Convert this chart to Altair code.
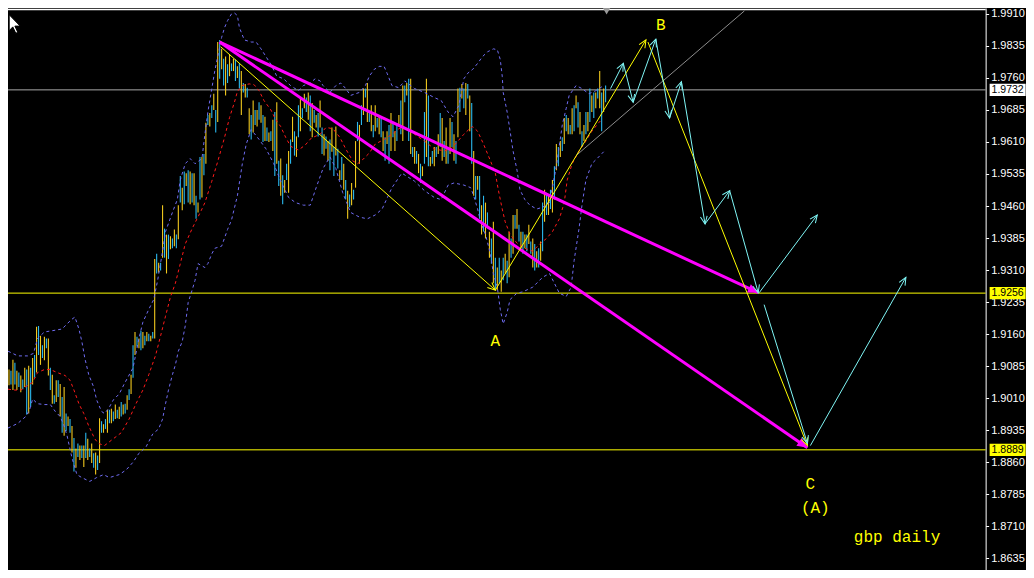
import math
import altair as alt
import pandas as pd

# ---------------- layout constants ----------------
W, H = 1018, 562
X_MIN, X_MAX = 0.0, 517.0          # day index units
Y_MIN, Y_MAX = 1.86076, 1.99237    # price units
AXIS_DAY = 496.5                   # where the price axis sits
PPD = W / (X_MAX - X_MIN)
PPP = H / (Y_MAX - Y_MIN)

# ---------------- data ----------------
tick_values = [1.9910, 1.9835, 1.9760, 1.9685, 1.9610, 1.9535, 1.9460, 1.9385, 1.9310,
               1.9235, 1.9160, 1.9085, 1.9010, 1.8935, 1.8860, 1.8785, 1.8710, 1.8635]

bar_high = [
    1.9077, 1.9074, 1.9100, 1.9093, 1.9074, 1.9070, 1.9063, 1.9054, 1.9081, 1.9077,
    1.9086, 1.9081, 1.9104, 1.9111, 1.9177, 1.9179, 1.9156, 1.9134, 1.9154, 1.9150,
    1.9150, 1.9081, 1.9065, 1.9017, 1.9052, 1.9052, 1.9043, 1.9013, 1.9036, 1.8974,
    1.8967, 1.8961, 1.8945, 1.8917, 1.8892, 1.8904, 1.8899, 1.8899, 1.8899, 1.8929,
    1.8915, 1.8892, 1.8904, 1.8881, 1.8883, 1.8876, 1.8963, 1.8956, 1.8949, 1.8961,
    1.8983, 1.8983, 1.8985, 1.8979, 1.8995, 1.8983, 1.8990, 1.9001, 1.8995, 1.8997,
    1.9017, 1.9031, 1.9065, 1.9134, 1.9165, 1.9154, 1.9150, 1.9168, 1.9165, 1.9156,
    1.9165, 1.9161, 1.9156, 1.9165, 1.9336, 1.9348, 1.9327, 1.9327, 1.9462, 1.9407,
    1.9393, 1.9393, 1.9389, 1.9384, 1.9405, 1.9393, 1.9462, 1.9530, 1.9503, 1.9541,
    1.9537, 1.9544, 1.9541, 1.9537, 1.9537, 1.9484, 1.9468, 1.9575, 1.9575, 1.9582,
    1.9655, 1.9673, 1.9678, 1.9696, 1.9723, 1.9685, 1.9844, 1.9849, 1.9828, 1.9805,
    1.9810, 1.9792, 1.9815, 1.9794, 1.9805, 1.9803, 1.9787, 1.9794, 1.9776, 1.9748,
    1.9746, 1.9737, 1.9689, 1.9673, 1.9707, 1.9685, 1.9685, 1.9703, 1.9696, 1.9673,
    1.9669, 1.9644, 1.9632, 1.9635, 1.9662, 1.9680, 1.9703, 1.9566, 1.9571, 1.9532,
    1.9521, 1.9559, 1.9589, 1.9616, 1.9669, 1.9635, 1.9623, 1.9696, 1.9714, 1.9689,
    1.9723, 1.9714, 1.9726, 1.9719, 1.9701, 1.9685, 1.9673, 1.9678, 1.9707, 1.9644,
    1.9628, 1.9623, 1.9612, 1.9616, 1.9644, 1.9598, 1.9646, 1.9594, 1.9544, 1.9575,
    1.9559, 1.9521, 1.9496, 1.9487, 1.9514, 1.9498, 1.9612, 1.9657, 1.9650, 1.9696,
    1.9735, 1.9735, 1.9748, 1.9680, 1.9696, 1.9650, 1.9696, 1.9666, 1.9673, 1.9666,
    1.9635, 1.9621, 1.9635, 1.9650, 1.9678, 1.9657, 1.9635, 1.9650, 1.9673, 1.9707,
    1.9742, 1.9742, 1.9748, 1.9758, 1.9758, 1.9598, 1.9598, 1.9589, 1.9582, 1.9559,
    1.9553, 1.9680, 1.9758, 1.9719, 1.9575, 1.9589, 1.9598, 1.9598, 1.9628, 1.9678,
    1.9666, 1.9612, 1.9644, 1.9598, 1.9666, 1.9657, 1.9628, 1.9612, 1.9735, 1.9737,
    1.9746, 1.9735, 1.9748, 1.9746, 1.9719, 1.9701, 1.9589, 1.9530, 1.9530, 1.9530,
    1.9462, 1.9484, 1.9468, 1.9445, 1.9400, 1.9384, 1.9423, 1.9339, 1.9316, 1.9339,
    1.9309, 1.9339, 1.9348, 1.9332, 1.9400, 1.9384, 1.9439, 1.9439, 1.9453, 1.9416,
    1.9400, 1.9400, 1.9393, 1.9393, 1.9416, 1.9377, 1.9384, 1.9371, 1.9354, 1.9361,
    1.9377, 1.9468, 1.9498, 1.9491, 1.9484, 1.9498, 1.9521, 1.9553, 1.9605, 1.9598,
    1.9612, 1.9621, 1.9666, 1.9673, 1.9666, 1.9650, 1.9689, 1.9696, 1.9719, 1.9703,
    1.9680, 1.9635, 1.9650, 1.9680, 1.9680, 1.9735, 1.9719, 1.9726, 1.9726, 1.9735,
    1.9776, 1.9726, 1.9735, 1.9742,
]

bar_low = [
    1.9040, 1.9042, 1.9029, 1.9042, 1.9029, 1.9036, 1.9024, 1.9031, 1.9036, 1.8972,
    1.8974, 1.8990, 1.9042, 1.9058, 1.9070, 1.9111, 1.9088, 1.9104, 1.9099, 1.9127,
    1.9063, 1.9029, 1.8997, 1.8997, 1.9001, 1.9013, 1.8967, 1.8929, 1.8922, 1.8933,
    1.8945, 1.8929, 1.8883, 1.8838, 1.8847, 1.8872, 1.8865, 1.8870, 1.8849, 1.8870,
    1.8865, 1.8872, 1.8858, 1.8847, 1.8831, 1.8842, 1.8858, 1.8929, 1.8929, 1.8938,
    1.8929, 1.8951, 1.8951, 1.8956, 1.8961, 1.8963, 1.8961, 1.8967, 1.8972, 1.8974,
    1.8983, 1.9006, 1.9020, 1.9058, 1.9111, 1.9131, 1.9127, 1.9122, 1.9127, 1.9134,
    1.9143, 1.9143, 1.9143, 1.9150, 1.9150, 1.9302, 1.9304, 1.9309, 1.9339, 1.9339,
    1.9302, 1.9336, 1.9359, 1.9361, 1.9366, 1.9361, 1.9382, 1.9468, 1.9450, 1.9464,
    1.9507, 1.9468, 1.9464, 1.9468, 1.9462, 1.9430, 1.9445, 1.9475, 1.9480, 1.9532,
    1.9559, 1.9650, 1.9646, 1.9666, 1.9685, 1.9632, 1.9657, 1.9758, 1.9780, 1.9742,
    1.9719, 1.9748, 1.9764, 1.9776, 1.9776, 1.9753, 1.9760, 1.9735, 1.9673, 1.9726,
    1.9714, 1.9714, 1.9628, 1.9616, 1.9632, 1.9650, 1.9646, 1.9662, 1.9655, 1.9610,
    1.9612, 1.9612, 1.9610, 1.9612, 1.9589, 1.9530, 1.9559, 1.9507, 1.9484, 1.9464,
    1.9491, 1.9521, 1.9491, 1.9559, 1.9610, 1.9578, 1.9575, 1.9621, 1.9635, 1.9666,
    1.9689, 1.9680, 1.9662, 1.9635, 1.9621, 1.9655, 1.9644, 1.9623, 1.9644, 1.9582,
    1.9578, 1.9594, 1.9566, 1.9544, 1.9587, 1.9530, 1.9578, 1.9548, 1.9521, 1.9521,
    1.9498, 1.9475, 1.9430, 1.9457, 1.9462, 1.9475, 1.9503, 1.9612, 1.9559, 1.9650,
    1.9673, 1.9714, 1.9657, 1.9657, 1.9635, 1.9621, 1.9635, 1.9644, 1.9628, 1.9621,
    1.9589, 1.9566, 1.9605, 1.9559, 1.9589, 1.9621, 1.9589, 1.9612, 1.9650, 1.9628,
    1.9612, 1.9703, 1.9719, 1.9612, 1.9582, 1.9575, 1.9559, 1.9559, 1.9537, 1.9514,
    1.9530, 1.9559, 1.9575, 1.9553, 1.9553, 1.9559, 1.9553, 1.9575, 1.9582, 1.9598,
    1.9566, 1.9575, 1.9559, 1.9559, 1.9582, 1.9598, 1.9566, 1.9559, 1.9621, 1.9680,
    1.9712, 1.9689, 1.9673, 1.9712, 1.9635, 1.9559, 1.9484, 1.9475, 1.9498, 1.9430,
    1.9393, 1.9400, 1.9384, 1.9407, 1.9339, 1.9325, 1.9279, 1.9263, 1.9263, 1.9279,
    1.9259, 1.9286, 1.9302, 1.9279, 1.9293, 1.9339, 1.9348, 1.9407, 1.9407, 1.9377,
    1.9361, 1.9348, 1.9361, 1.9354, 1.9371, 1.9348, 1.9316, 1.9309, 1.9316, 1.9316,
    1.9332, 1.9354, 1.9423, 1.9439, 1.9439, 1.9453, 1.9445, 1.9475, 1.9544, 1.9553,
    1.9575, 1.9589, 1.9605, 1.9635, 1.9628, 1.9628, 1.9628, 1.9635, 1.9689, 1.9644,
    1.9628, 1.9598, 1.9612, 1.9628, 1.9635, 1.9657, 1.9680, 1.9666, 1.9689, 1.9712,
    1.9689, 1.9635, 1.9680, 1.9703,
]

upper_day = [0, 5, 10, 13, 15, 18.5, 22.5, 27.5, 30, 32.5, 34, 36, 37.5, 39, 41, 43.5, 45, 47.5, 49, 51,
             53.5, 56.5, 59, 63.5, 66.5, 68.5, 71.5, 74, 76, 78.5, 80, 83.5, 86, 87.5, 90, 92.5, 95, 98.5,
             100, 101.5, 103.5, 105, 106.5, 108.5, 110, 111.5, 113.5, 115, 116.5, 117.5, 120, 123.5, 126,
             128.5, 131, 133.5, 136.5, 140, 143.5, 147.5, 150, 153.5, 156, 158.5, 160, 163.5, 166.5, 169,
             171.5, 174, 178.5, 181.5, 183.5, 186, 188.5, 191, 192.5, 195, 198.5, 201.5, 206.5, 211.5,
             216.5, 220, 223.5, 226, 229, 231.5, 233.5, 236, 238.5, 241, 243.5, 246.5, 248.5, 250, 251,
             251.5, 253.5, 255, 256.5, 258.5, 260, 262.5, 265, 268.5, 271.5, 275, 278.5, 281.5, 283.5,
             285, 288.5, 291.5, 295, 298.5, 302.5]
upper_val = [1.9120, 1.9109, 1.9109, 1.9115, 1.9150, 1.9165, 1.9168, 1.9172, 1.9184, 1.9195, 1.9200,
             1.9172, 1.9143, 1.9104, 1.9065, 1.9036, 1.9006, 1.8979, 1.8974, 1.8985, 1.9006, 1.9020,
             1.9043, 1.9081, 1.9150, 1.9188, 1.9218, 1.9241, 1.9286, 1.9354, 1.9400, 1.9445, 1.9475,
             1.9521, 1.9559, 1.9571, 1.9559, 1.9571, 1.9628, 1.9680, 1.9735, 1.9776, 1.9810, 1.9855,
             1.9878, 1.9894, 1.9910, 1.9912, 1.9906, 1.9878, 1.9849, 1.9844, 1.9844, 1.9828, 1.9810,
             1.9792, 1.9764, 1.9758, 1.9742, 1.9730, 1.9742, 1.9748, 1.9758, 1.9753, 1.9742, 1.9726,
             1.9742, 1.9748, 1.9735, 1.9719, 1.9726, 1.9742, 1.9764, 1.9780, 1.9787, 1.9787, 1.9771,
             1.9742, 1.9737, 1.9753, 1.9735, 1.9726, 1.9714, 1.9707, 1.9680, 1.9669, 1.9696, 1.9758,
             1.9771, 1.9780, 1.9794, 1.9810, 1.9821, 1.9828, 1.9826, 1.9803, 1.9764, 1.9726, 1.9680,
             1.9635, 1.9589, 1.9544, 1.9498, 1.9475, 1.9462, 1.9453, 1.9457, 1.9468, 1.9553, 1.9650,
             1.9689, 1.9719, 1.9742, 1.9735, 1.9723, 1.9730, 1.9742]

mid_day = [0, 3.5, 6.5, 10, 12.5, 15, 18.5, 21.5, 25, 29, 31.5, 33.5, 36, 38.5, 41, 44, 46, 49, 53.5,
           57.5, 61.5, 65, 68.5, 71.5, 75, 77.5, 80, 82.5, 85, 87.5, 90, 93.5, 96, 98.5, 100, 103.5,
           106.5, 110, 112.5, 115, 116.5, 119, 122.5, 125, 127.5, 130, 133.5, 136, 138.5, 141, 143.5,
           147.5, 151, 154, 158.5, 161.5, 165, 168.5, 171.5, 175, 177.5, 180, 183.5, 186.5, 191, 195,
           198.5, 201.5, 206.5, 211.5, 216.5, 221.5, 225, 228.5, 231.5, 234, 236, 238.5, 241.5, 245,
           247.5, 249, 251, 252.5, 255, 258.5, 262.5, 266.5, 270, 273.5, 276.5, 280, 282.5, 284,
           286.5, 290, 293.5, 296.5, 300, 301.5]
mid_val = [1.9031, 1.9029, 1.9029, 1.9040, 1.9047, 1.9070, 1.9077, 1.9077, 1.9070, 1.9063, 1.9052,
           1.9029, 1.8997, 1.8974, 1.8945, 1.8915, 1.8904, 1.8899, 1.8915, 1.8929, 1.8961, 1.8997,
           1.9029, 1.9065, 1.9111, 1.9156, 1.9202, 1.9247, 1.9279, 1.9325, 1.9371, 1.9407, 1.9430,
           1.9453, 1.9468, 1.9518, 1.9564, 1.9621, 1.9667, 1.9703, 1.9728, 1.9742, 1.9746, 1.9744,
           1.9730, 1.9707, 1.9685, 1.9662, 1.9646, 1.9621, 1.9600, 1.9591, 1.9603, 1.9619, 1.9628,
           1.9644, 1.9641, 1.9621, 1.9594, 1.9566, 1.9559, 1.9568, 1.9584, 1.9605, 1.9616, 1.9628,
           1.9641, 1.9644, 1.9628, 1.9612, 1.9594, 1.9589, 1.9594, 1.9612, 1.9628, 1.9639, 1.9646,
           1.9635, 1.9605, 1.9566, 1.9537, 1.9498, 1.9453, 1.9423, 1.9393, 1.9373, 1.9361, 1.9354,
           1.9371, 1.9384, 1.9400, 1.9430, 1.9468, 1.9521, 1.9559, 1.9589, 1.9612, 1.9635, 1.9655,
           1.9662]

lower_day = [0, 5, 9, 11, 12.5, 15, 18.5, 21.5, 24, 26.5, 28.5, 30, 32.5, 35, 37.5, 41.5, 45, 48.5,
             51.5, 56.5, 60, 63.5, 66.5, 70, 73.5, 76.5, 78.5, 80, 81.5, 83.5, 85, 86.5, 88.5, 90,
             91.5, 93.5, 95, 96.5, 100, 101.5, 103.5, 105, 108.5, 111.5, 113.5, 116.5, 119, 121,
             123.5, 127.5, 131, 135, 138.5, 142.5, 146, 150, 153.5, 156.5, 160, 163.5, 166.5, 170,
             174, 178.5, 182.5, 186.5, 190, 195, 200, 206.5, 211.5, 216.5, 220, 223.5, 226.5, 231.5,
             235, 236.5, 238.5, 240, 242.5, 245, 246.5, 248.5, 250, 251.5, 253.5, 255, 258.5, 261.5,
             266.5, 271.5, 275, 277.5, 280, 283.5, 286, 287.5, 290, 291.5, 293.5, 296.5, 300, 302.5]
lower_val = [1.8940, 1.8951, 1.8967, 1.8983, 1.9008, 1.8997, 1.8995, 1.8995, 1.8979, 1.8967, 1.8945,
             1.8922, 1.8870, 1.8831, 1.8824, 1.8815, 1.8824, 1.8831, 1.8824, 1.8831, 1.8842, 1.8860,
             1.8881, 1.8895, 1.8926, 1.8938, 1.8961, 1.8997, 1.9029, 1.9065, 1.9088, 1.9120, 1.9143,
             1.9179, 1.9234, 1.9263, 1.9286, 1.9325, 1.9316, 1.9325, 1.9348, 1.9361, 1.9366, 1.9405,
             1.9427, 1.9484, 1.9559, 1.9605, 1.9639, 1.9616, 1.9594, 1.9559, 1.9518, 1.9480, 1.9468,
             1.9462, 1.9462, 1.9503, 1.9548, 1.9575, 1.9548, 1.9491, 1.9445, 1.9434, 1.9430, 1.9439,
             1.9453, 1.9503, 1.9537, 1.9518, 1.9496, 1.9480, 1.9475, 1.9509, 1.9514, 1.9509, 1.9503,
             1.9484, 1.9453, 1.9423, 1.9393, 1.9348, 1.9302, 1.9270, 1.9218, 1.9184, 1.9211, 1.9241,
             1.9256, 1.9259, 1.9270, 1.9293, 1.9302, 1.9279, 1.9256, 1.9248, 1.9270, 1.9332, 1.9407,
             1.9462, 1.9521, 1.9559, 1.9575, 1.9587]

level_prices = [1.9732, 1.9256, 1.8889]
level_colors = ["#a8a8a8", "#ffff00", "#ffff00"]
tag_fills = ["#ffffff", "#ffff00", "#ffff00"]
frame_top = 1.9920

# trend / wave lines: (day1, price1, day2, price2)
gray_diag = [(288.5, 1.9578, 374.0, 1.9917)]
magenta_lines = [(107.5, 1.9844, 381.0, 1.9257), (107.5, 1.9844, 406.0, 1.8894)]
yellow_lines = [(108.0, 1.9833, 247.5, 1.9263), (247.5, 1.9263, 324.0, 1.9849), (325.0, 1.9844, 406.0, 1.8899)]
cyan_lines = [(306.0, 1.9735, 312.5, 1.9794), (312.5, 1.9794, 317.5, 1.9703), (317.5, 1.9703, 329.0, 1.9851),
              (329.0, 1.9851, 336.0, 1.9666), (336.0, 1.9666, 342.0, 1.9751), (342.0, 1.9751, 354.0, 1.9418),
              (354.0, 1.9418, 366.5, 1.9496), (366.5, 1.9496, 381.0, 1.9257), (381.5, 1.9257, 411.0, 1.9439),
              (384.0, 1.9229, 406.0, 1.8904), (407.5, 1.8899, 456.0, 1.9293)]

labels_txt = ["A", "B", "C", "(A)", "gbp daily"]
labels_day = [247.5, 331.5, 407.5, 410.0, 451.5]
labels_price = [1.9143, 1.9885, 1.8810, 1.8753, 1.8685]

marker_day, marker_price = 304.0, 1.9917
cursor_day, cursor_price = 0.6, 1.9908

# ---------------- helpers ----------------
xs = alt.Scale(domain=[X_MIN, X_MAX], nice=False, zero=False)
ys = alt.Scale(domain=[Y_MIN, Y_MAX], nice=False, zero=False)

yaxis = alt.Axis(orient="right", offset=-(W - AXIS_DAY * PPD), values=tick_values, format=".4f",
                 labelColor="#ffffff", labelFont="Liberation Sans", labelFontSize=11, labelPadding=2,
                 tickSize=3, tickColor="#ffffff", domainColor="#ffffff", domainWidth=1, grid=False,
                 title=None, labelFlush=False, labelOverlap=False)


def X(f):
    return alt.X(f, type="quantitative", scale=xs, axis=None)


def Y(f):
    return alt.Y(f, type="quantitative", scale=ys, axis=yaxis)


def seg_layer(segs, color, width):
    df = pd.DataFrame(segs, columns=["x1", "y1", "x2", "y2"])
    return alt.Chart(df).mark_rule(color=color, strokeWidth=width).encode(
        x=X("x1"), y=Y("y1"), x2="x2", y2="y2")


def heads(segs):
    rows = []
    for x1, y1, x2, y2 in segs:
        dx = (x2 - x1) * PPD
        dy = -(y2 - y1) * PPP
        ang = math.degrees(math.atan2(dx, -dy)) % 360
        rows.append({"d": x2, "p": y2, "ang": ang})
    return pd.DataFrame(rows)


V_HEAD = "M-0.42,0.95L0,0L0.42,0.95"
T_HEAD = "M0,0L-0.45,1L0.45,1Z"
RECT = "M-1,-0.34L1,-0.34L1,0.34L-1,0.34Z"
CURSOR = "M0,0L0,1.6L0.36,1.22L0.66,1.86L0.86,1.76L0.57,1.14L1.1,1.14Z"


def head_layer(segs, color, shape, filled, size):
    return alt.Chart(heads(segs)).mark_point(
        shape=shape, filled=filled, color=color, size=size, opacity=1, strokeWidth=1
    ).encode(x=X("d"), y=Y("p"), angle=alt.Angle("ang:Q", scale=None))


# ---------------- layers ----------------
n = len(bar_high)
bars = pd.DataFrame({
    "day": [i + 0.5 for i in range(n)],
    "high": bar_high,
    "low": bar_low,
    "c": ["#f0c81e" if i % 2 == 0 else "#2ab8ee" for i in range(n)],
})

levels_df = pd.DataFrame({"x1": [X_MIN] * 3, "x2": [AXIS_DAY] * 3, "p": level_prices, "c": level_colors})
levels = alt.Chart(levels_df).mark_rule(strokeWidth=1).encode(
    x=X("x1"), x2="x2", y=Y("p"), color=alt.Color("c:N", scale=None))

frame = alt.Chart(pd.DataFrame({"x1": [X_MIN], "x2": [AXIS_DAY], "p": [frame_top]})).mark_rule(
    color="#ffffff", strokeWidth=1.5).encode(x=X("x1"), x2="x2", y=Y("p"))

bar_layer = alt.Chart(bars).mark_rule(strokeWidth=1.1).encode(
    x=X("day"), y=Y("high"), y2="low", color=alt.Color("c:N", scale=None))


def band(days, vals, color):
    df = pd.DataFrame({"day": days, "p": vals})
    return alt.Chart(df).mark_line(color=color, strokeWidth=1, strokeDash=[3, 3]).encode(
        x=X("day"), y=Y("p"))


upper = band(upper_day, upper_val, "#6f6cf2")
lower = band(lower_day, lower_val, "#6f6cf2")
mid = band(mid_day, mid_val, "#ff1a1a")

gray = seg_layer(gray_diag, "#8c8c8c", 1)
mag = seg_layer(magenta_lines, "#ff00ff", 3)
mag_h = head_layer(magenta_lines, "#ff00ff", T_HEAD, True, 420)
yel = seg_layer(yellow_lines, "#ffff00", 1)
yel_h = head_layer(yellow_lines, "#ffff00", V_HEAD, False, 260)
cya = seg_layer(cyan_lines, "#7ff5f5", 1)
cya_h = head_layer(cyan_lines, "#7ff5f5", V_HEAD, False, 260)

txt = alt.Chart(pd.DataFrame({"d": labels_day, "p": labels_price, "t": labels_txt})).mark_text(
    font="Liberation Mono", fontSize=16, color="#ffff00", align="center", baseline="middle"
).encode(x=X("d"), y=Y("p"), text="t:N")

tag_day = AXIS_DAY + 22.0 / PPD
tags_df = pd.DataFrame({"d": [tag_day] * 3, "p": level_prices, "f": tag_fills,
                        "t": [f"{v:.4f}" for v in level_prices]})
tag_box = alt.Chart(tags_df).mark_point(shape=RECT, filled=True, size=1296, opacity=1, strokeWidth=0).encode(
    x=X("d"), y=Y("p"), color=alt.Color("f:N", scale=None))
tag_txt = alt.Chart(tags_df).mark_text(font="Liberation Sans", fontSize=10.5, color="#000000",
                                       align="center", baseline="middle").encode(
    x=X("d"), y=Y("p"), text="t:N")

marker = alt.Chart(pd.DataFrame({"d": [marker_day], "p": [marker_price]})).mark_point(
    shape="triangle-down", filled=True, color="#9a9a9a", size=70, opacity=1).encode(x=X("d"), y=Y("p"))

cursor = alt.Chart(pd.DataFrame({"d": [cursor_day], "p": [cursor_price]})).mark_point(
    shape=CURSOR, filled=True, fill="#ffffff", stroke="#000000", strokeWidth=1, size=400, opacity=1
).encode(x=X("d"), y=Y("p"))

chart = alt.layer(
    levels, frame, bar_layer, upper, lower, mid, gray, mag, mag_h, yel, yel_h, cya, cya_h,
    txt, tag_box, tag_txt, marker, cursor
).properties(
    width=W, height=H, autosize=alt.AutoSizeParams(type="none"), padding=0
).configure(background="#000000").configure_view(stroke=None)

chart.save("out.html", embed_options={"renderer": "svg", "actions": False})
